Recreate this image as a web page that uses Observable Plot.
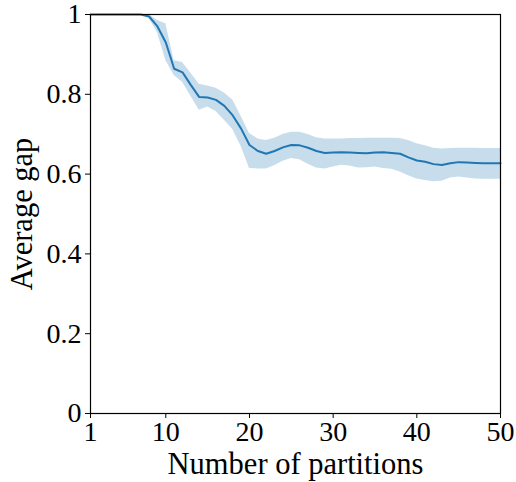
<!DOCTYPE html>
<html>
<head>
<meta charset="utf-8">
<script src="https://cdn.jsdelivr.net/npm/d3@7"></script>
<script src="https://cdn.jsdelivr.net/npm/@observablehq/plot@0.6"></script>
<style>
  html, body { margin: 0; padding: 0; background: #fff; }
</style>
</head>
<body>
<div id="chart"></div>
<script>
const partitions = d3.range(1, 51);
const meanGap = [
  1, 1, 1, 1, 1, 1, 1, 0.995, 0.97, 0.93,
  0.864, 0.855, 0.823, 0.793, 0.792, 0.786, 0.771, 0.747, 0.714, 0.673,
  0.658, 0.651, 0.658, 0.667, 0.673, 0.672, 0.666, 0.658, 0.653, 0.654,
  0.655, 0.654, 0.653, 0.652, 0.654, 0.655, 0.653, 0.651, 0.642, 0.634,
  0.631, 0.625, 0.623, 0.627, 0.630, 0.629, 0.628, 0.627, 0.627, 0.627
];
const upperGap = [
  1, 1, 1, 1, 1, 1, 1, 1, 0.985, 0.977,
  0.884, 0.880, 0.853, 0.825, 0.821, 0.815, 0.803, 0.786, 0.745, 0.702,
  0.688, 0.684, 0.690, 0.699, 0.705, 0.705, 0.699, 0.691, 0.688, 0.688,
  0.688, 0.689, 0.689, 0.690, 0.690, 0.690, 0.690, 0.689, 0.684, 0.676,
  0.671, 0.665, 0.663, 0.664, 0.665, 0.665, 0.665, 0.664, 0.664, 0.664
];
const lowerGap = [
  1, 1, 1, 1, 1, 1, 1, 0.99, 0.955, 0.885,
  0.847, 0.830, 0.795, 0.760, 0.768, 0.757, 0.735, 0.712, 0.670, 0.614,
  0.613, 0.613, 0.621, 0.632, 0.639, 0.636, 0.625, 0.615, 0.613, 0.618,
  0.622, 0.620, 0.615, 0.616, 0.618, 0.614, 0.612, 0.605, 0.596, 0.588,
  0.584, 0.581, 0.582, 0.590, 0.593, 0.590, 0.588, 0.587, 0.587, 0.587
];
const xTicks = [1, 10, 20, 30, 40, 50];
const yTicks = [0, 0.2, 0.4, 0.6, 0.8, 1];

const data = partitions.map((p, i) => ({p, m: meanGap[i], lo: lowerGap[i], hi: upperGap[i]}));
const color = "#1f77b4";

const chart = Plot.plot({
  width: 516,
  height: 482,
  marginLeft: 90,
  marginRight: 16,
  marginTop: 14,
  marginBottom: 69,
  style: {fontFamily: "'Liberation Serif', serif", fontSize: "28px", color: "#000", background: "#fff", overflow: "visible"},
  x: {domain: [1, 50], label: null},
  y: {domain: [0, 1], label: null},
  marks: [
    Plot.areaY(data, {x: "p", y1: "lo", y2: "hi", fill: color, fillOpacity: 0.25}),
    Plot.lineY(data, {x: "p", y: "m", stroke: color, strokeWidth: 2}),
    Plot.frame({stroke: "#000", strokeWidth: 1.2}),
    Plot.axisX({ticks: xTicks, tickSize: 5, tickPadding: 3, fontSize: 28, label: null}),
    Plot.axisX({ticks: [], label: "Number of partitions", labelArrow: "none", labelAnchor: "center", labelOffset: 60, fontSize: 30.5}),
    Plot.axisY({ticks: yTicks, tickSize: 5, tickPadding: 4, fontSize: 28, label: null, tickFormat: d => d3.format("")(d)}),
    Plot.axisY({ticks: [], label: "Average gap", labelArrow: "none", labelAnchor: "center", labelOffset: 80, fontSize: 30.5})
  ]
});
document.getElementById("chart").appendChild(chart);
</script>
</body>
</html>
